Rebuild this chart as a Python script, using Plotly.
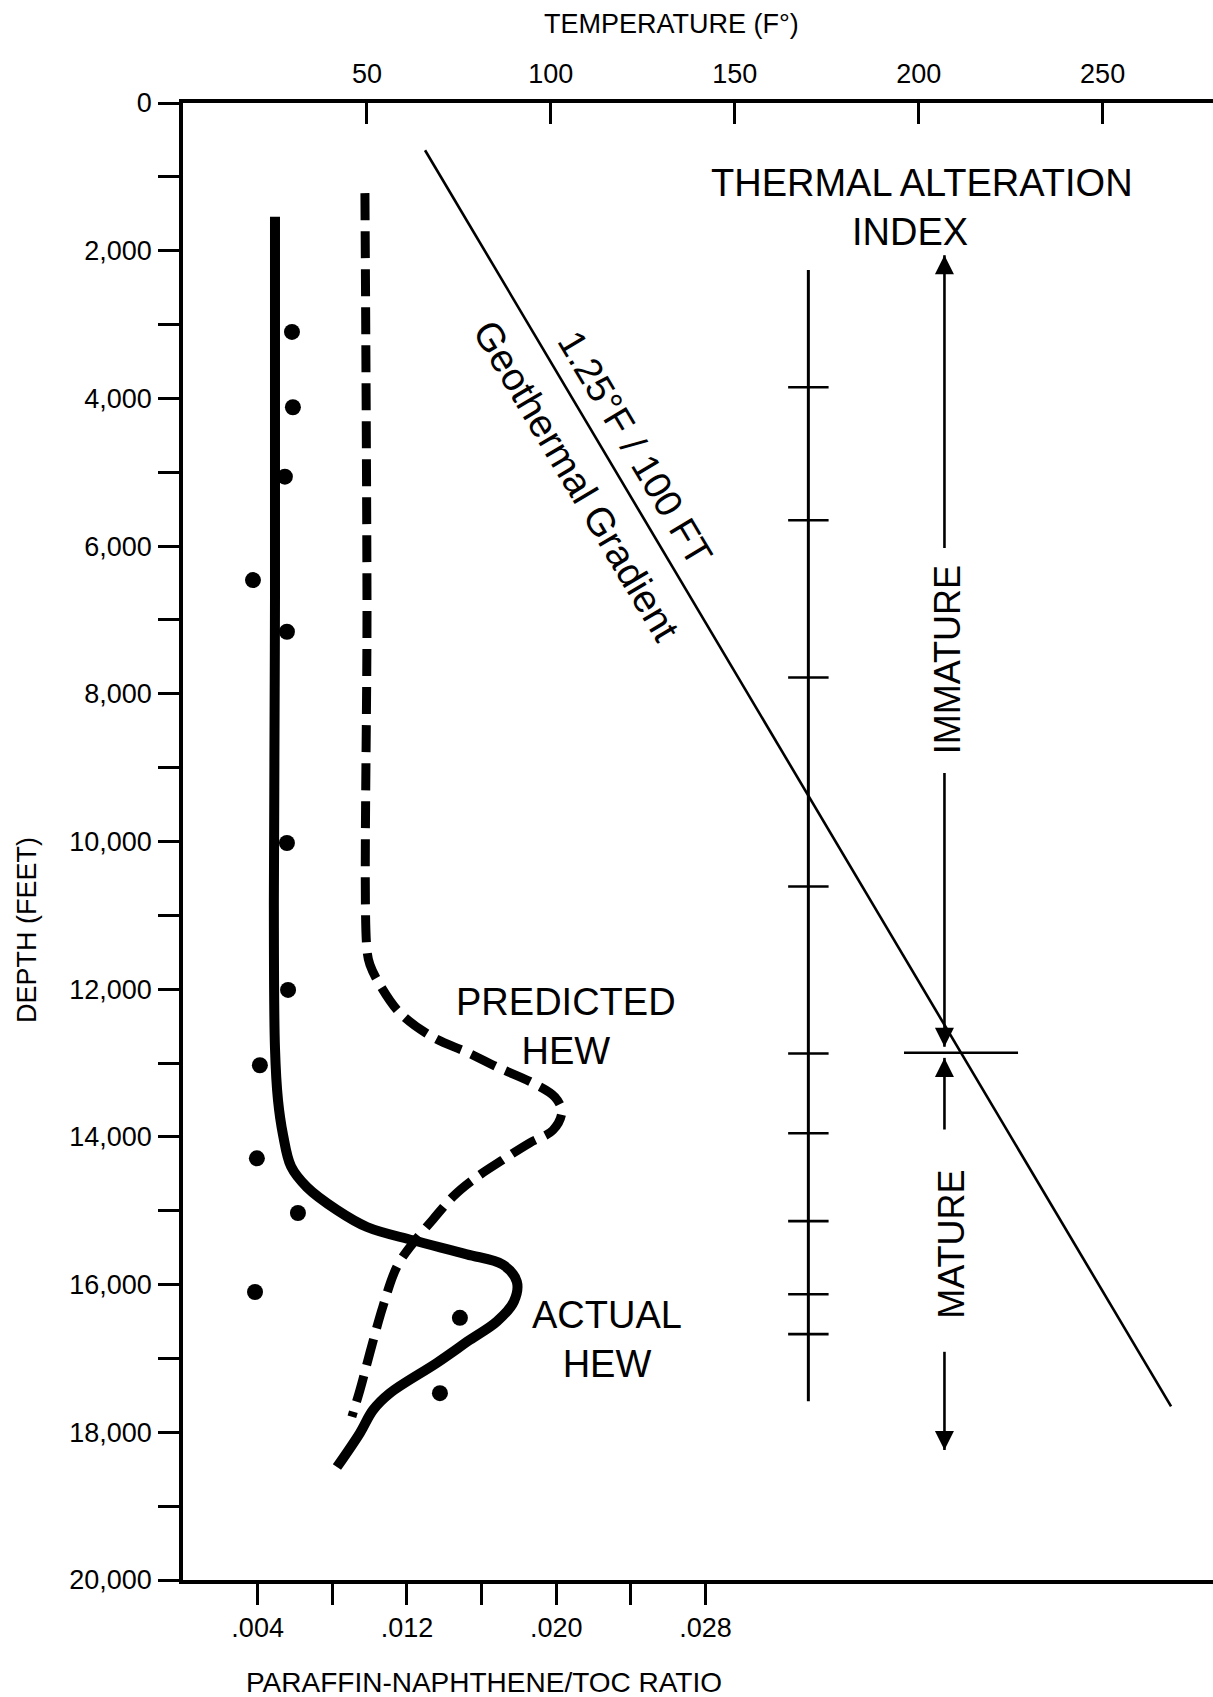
import plotly.graph_objects as go

FONT = "Liberation Sans, Arial, Helvetica, sans-serif"

# ---------------- axes / ticks ----------------
depth_ticks = list(range(0, 20001, 1000))
depth_labels = [f"{v:,}" if v % 2000 == 0 else "" for v in depth_ticks]
ratio_ticks = [0.004, 0.008, 0.012, 0.016, 0.020, 0.024, 0.028]
ratio_labels = [".004", "", ".012", "", ".020", "", ".028"]
temp_ticks = [50, 100, 150, 200, 250]
temp_labels = ["50", "100", "150", "200", "250"]
RATIO_MAX = 0.0552
TEMP_MAX = 280.0

# ---------------- data ----------------
# Actual HEW (paraffin-naphthene / TOC ratio vs depth)
actual_ratio = [0.00493, 0.00493, 0.00487, 0.00493, 0.00509, 0.00536, 0.00579, 0.00664,
                0.00825, 0.00986, 0.01232, 0.01521, 0.01714, 0.01789, 0.01773, 0.01682,
                0.01537, 0.01361, 0.01109, 0.01018, 0.00948, 0.00825]
actual_depth = [1540, 6700, 10800, 12800, 13500, 13970, 14400, 14680,
                14990, 15220, 15400, 15590, 15730, 15960, 16230, 16500,
                16750, 17060, 17470, 17700, 18010, 18470]

# Predicted HEW
pred_ratio = [0.00975, 0.00986, 0.00986, 0.01002, 0.01055, 0.01162, 0.01339, 0.01527,
              0.01698, 0.01875, 0.01993, 0.02030, 0.01982, 0.01859, 0.01714, 0.01554,
              0.01446, 0.01339, 0.01232, 0.01146, 0.01071, 0.01002, 0.00948, 0.00905]
pred_depth = [1220, 6700, 11470, 11670, 11940, 12320, 12650, 12860,
              13070, 13270, 13460, 13660, 13910, 14080, 14310, 14580,
              14810, 15120, 15440, 15760, 16300, 16920, 17430, 17790]

# Measured samples
sample_ratio = [0.00584, 0.00589, 0.00546, 0.00375, 0.00557, 0.00557, 0.00563,
                0.00412, 0.00396, 0.00616, 0.00386, 0.01484, 0.01377]
sample_depth = [3100, 4120, 5060, 6460, 7160, 10020, 12010,
                13030, 14290, 15030, 16100, 16450, 17470]

# Geothermal gradient (temperature F vs depth)
geo_temp = [65.8, 268.6]
geo_depth = [640, 17650]

# Thermal alteration index scale
tai_temp = 170.0
tai_depth_range = [2260, 17580]
tai_tick_depths = [3850, 5650, 7780, 10610, 12870, 13950, 15140, 16130, 16670]
TAI_HALF = 5.5

# Maturity arrows (temperature position, depths)
mat_temp = 207.0
immature_top = 2060
immature_gap = [6025, 9072]
boundary_depth = 12860
boundary_temp = [196, 227]
immature_tip = 12780
mature_tip = 12930
mature_line_end = 13900
mature_lower = [16910, 18240]

fig = go.Figure()

# geothermal gradient
fig.add_trace(go.Scatter(x=geo_temp, y=geo_depth, xaxis="x2", yaxis="y", mode="lines",
                         line=dict(color="black", width=2.6), hoverinfo="skip"))

# TAI scale
fig.add_trace(go.Scatter(x=[tai_temp, tai_temp], y=tai_depth_range, xaxis="x2", mode="lines",
                         line=dict(color="black", width=3), hoverinfo="skip"))
tx, ty = [], []
for d in tai_tick_depths:
    tx += [tai_temp - TAI_HALF, tai_temp + TAI_HALF, None]
    ty += [d, d, None]
fig.add_trace(go.Scatter(x=tx, y=ty, xaxis="x2", mode="lines",
                         line=dict(color="black", width=2.6), hoverinfo="skip"))

# maturity lines
mx = [mat_temp, mat_temp, None, mat_temp, mat_temp, None,
      boundary_temp[0], boundary_temp[1], None,
      mat_temp, mat_temp, None, mat_temp, mat_temp]
my = [immature_top, immature_gap[0], None, immature_gap[1], immature_tip, None,
      boundary_depth, boundary_depth, None,
      mature_tip, mature_line_end, None, mature_lower[0], mature_lower[1]]
fig.add_trace(go.Scatter(x=mx, y=my, xaxis="x2", mode="lines",
                         line=dict(color="black", width=2.6), hoverinfo="skip"))
fig.add_trace(go.Scatter(x=[mat_temp, mat_temp], y=[immature_top, mature_tip], xaxis="x2",
                         mode="markers", marker=dict(symbol="arrow-up", size=19, color="black"),
                         hoverinfo="skip"))
fig.add_trace(go.Scatter(x=[mat_temp, mat_temp], y=[immature_tip, mature_lower[1]], xaxis="x2",
                         mode="markers", marker=dict(symbol="arrow-down", size=19, color="black"),
                         hoverinfo="skip"))

# predicted HEW
fig.add_trace(go.Scatter(x=pred_ratio, y=pred_depth, mode="lines",
                         line=dict(color="black", width=9, dash="27px,11px", shape="spline", smoothing=1.0),
                         hoverinfo="skip"))
# actual HEW
fig.add_trace(go.Scatter(x=actual_ratio, y=actual_depth, mode="lines",
                         line=dict(color="black", width=10, shape="spline", smoothing=1.0),
                         hoverinfo="skip"))
# samples
fig.add_trace(go.Scatter(x=sample_ratio, y=sample_depth, mode="markers",
                         marker=dict(color="black", size=16, line=dict(width=0)), hoverinfo="skip"))

ann = []
def txt(text, x, y, size, xref="x", yref="y", angle=0):
    ann.append(dict(text=text, x=x, y=y, xref=xref, yref=yref, showarrow=False,
                    xanchor="center", yanchor="middle", textangle=angle,
                    font=dict(size=size, color="black", family=FONT)))

txt("PREDICTED<br>HEW", 0.0205, 12500, 38)
txt("ACTUAL<br>HEW", 0.0227, 16750, 38)
txt("THERMAL ALTERATION", 200.8, 1083, 38, xref="x2")
txt("INDEX", 197.7, 1747, 38, xref="x2")
txt("IMMATURE", 207.9, 7535, 36, xref="x2", angle=-90)
txt("MATURE", 209.0, 15450, 36, xref="x2", angle=-90)
txt("1.25°F / 100 FT", 122.9, 4671, 38, xref="x2", angle=59.3)
txt("Geothermal Gradient", 107.0, 5105, 39, xref="x2", angle=59.3)
# axis titles
txt("TEMPERATURE (F°)", 0.4738, 1.0535, 27, xref="paper", yref="paper")
txt("PARAFFIN-NAPHTHENE/TOC RATIO", 0.2922, -0.0697, 28, xref="paper", yref="paper")
txt("DEPTH (FEET)", -0.1515, 0.4401, 27, xref="paper", yref="paper", angle=-90)

axis_common = dict(showgrid=False, zeroline=False, showline=True, linecolor="black",
                   tickcolor="black", fixedrange=True,
                   tickfont=dict(size=27, color="black", family=FONT))

fig.update_layout(
    width=1213, height=1697,
    margin=dict(l=183, r=0, t=103, b=117, pad=0),
    paper_bgcolor="white", plot_bgcolor="white",
    showlegend=False, hovermode=False,
    font=dict(family=FONT, color="black"),
    annotations=ann,
    xaxis=dict(range=[0, RATIO_MAX], tickvals=ratio_ticks, ticktext=ratio_labels,
               ticks="outside", ticklen=21, tickwidth=3, linewidth=4,
               ticklabelstandoff=0, **axis_common),
    xaxis2=dict(range=[0, TEMP_MAX], overlaying="x", side="top", anchor="y",
                tickvals=temp_ticks, ticktext=temp_labels,
                ticks="inside", ticklen=21, tickwidth=3, linewidth=4,
                ticklabelstandoff=5, **axis_common),
    yaxis=dict(range=[20000, 0], tickvals=depth_ticks, ticktext=depth_labels,
               ticks="outside", ticklen=21, tickwidth=3, linewidth=3.5,
               ticklabelstandoff=1, **axis_common),
)

fig.write_html("out.html", config={"displayModeBar": False},
               post_script="document.body.style.margin='0';")
